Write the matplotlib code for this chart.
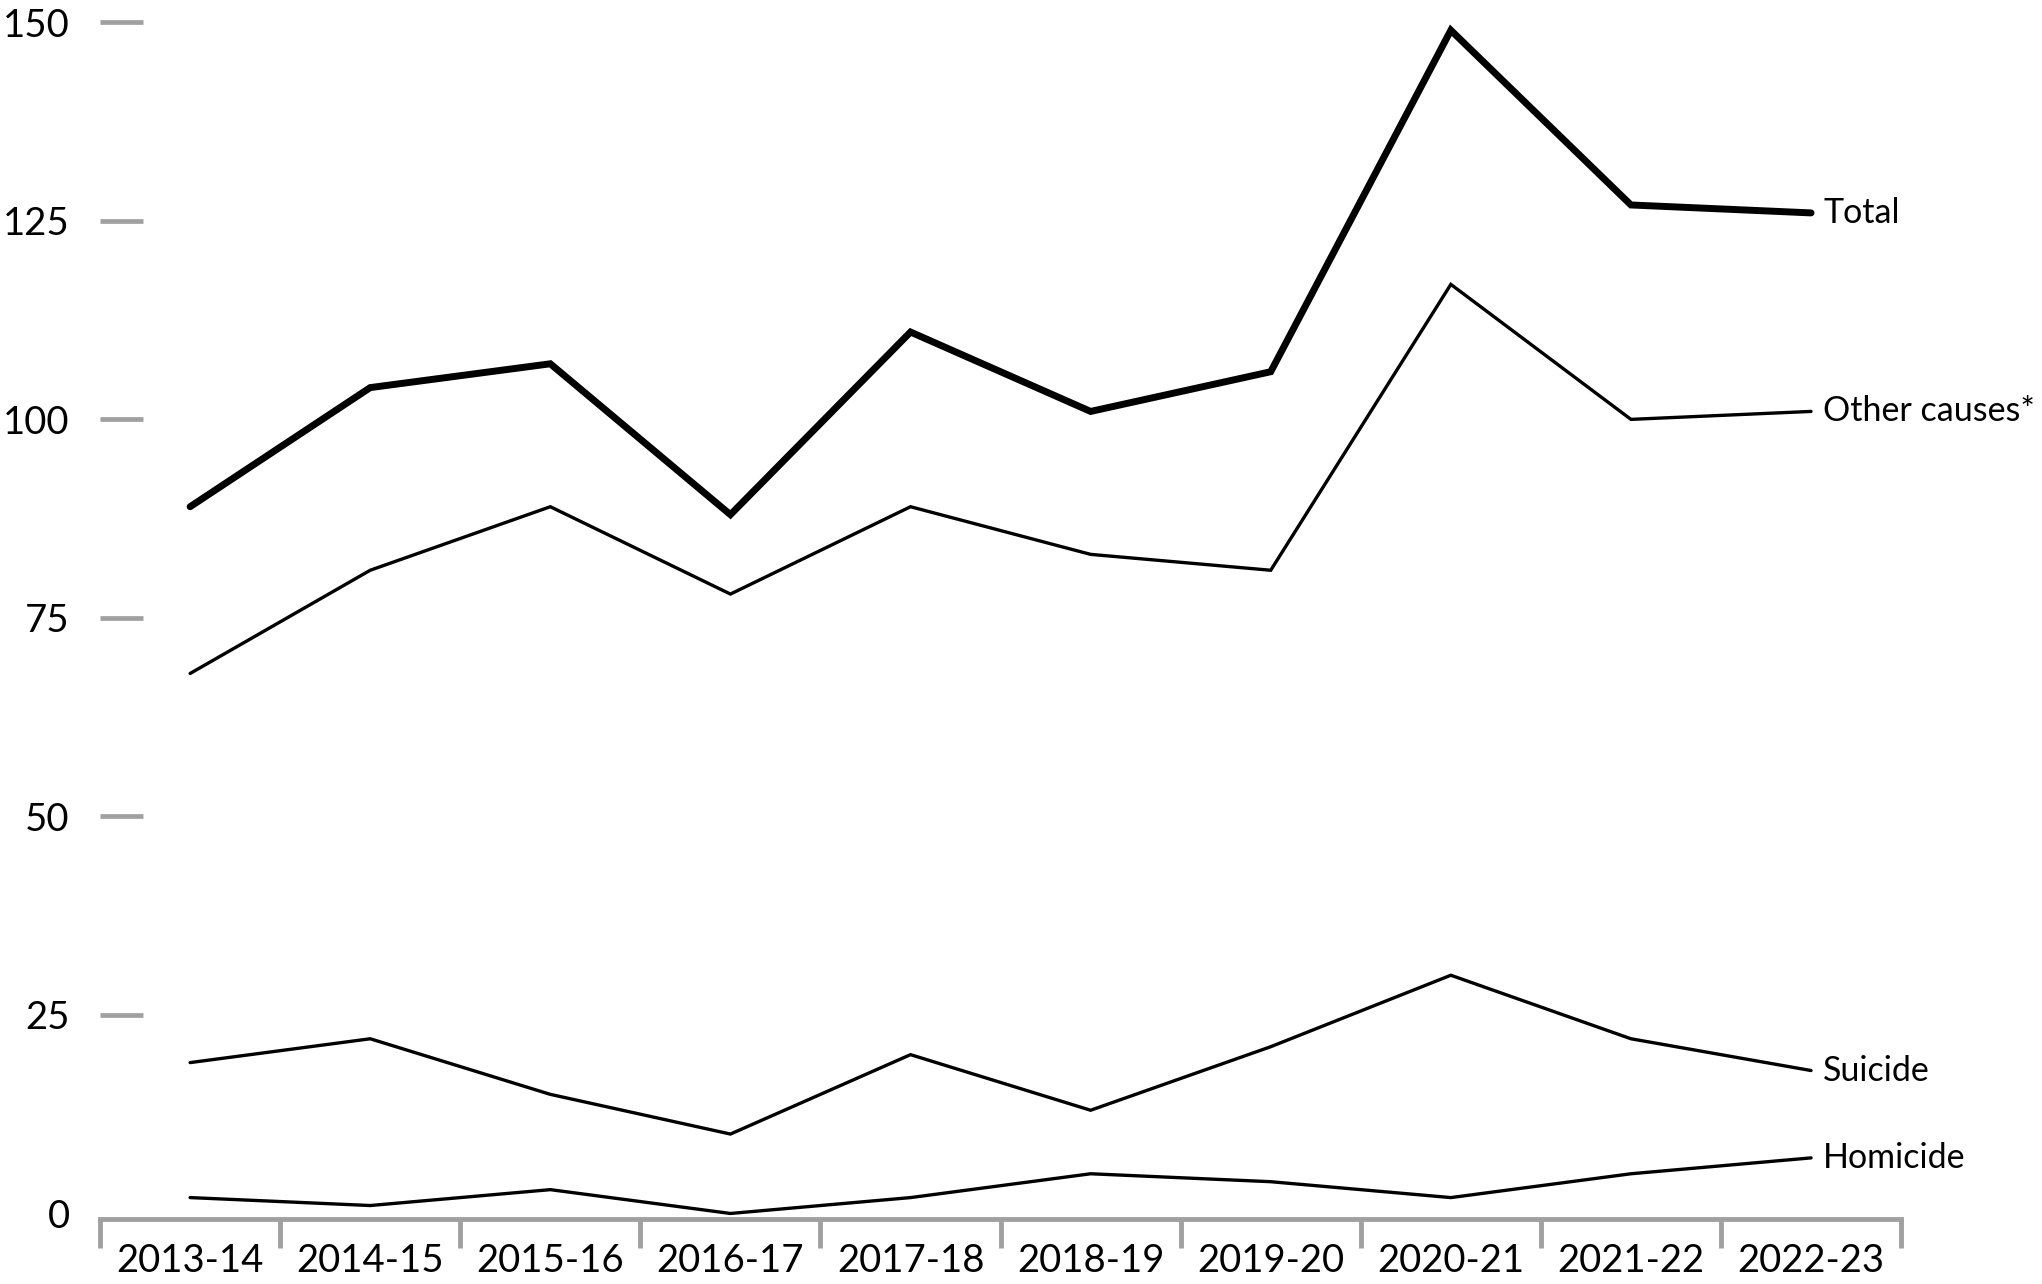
import numpy as np
import matplotlib.pyplot as plt
from matplotlib.ticker import FixedLocator

# values
years = ["2013-14", "2014-15", "2015-16", "2016-17", "2017-18",
         "2018-19", "2019-20", "2020-21", "2021-22", "2022-23"]
total = [89, 104, 107, 88, 111, 101, 106, 149, 127, 126]
other_causes = [68, 81, 89, 78, 89, 83, 81, 117, 100, 101]
suicide = [19, 22, 15, 10, 20, 13, 21, 30, 22, 18]
homicide = [2, 1, 3, 0, 2, 5, 4, 2, 5, 7]

plt.rcParams['font.family'] = ['Lato', 'DejaVu Sans']

grey = '#a0a0a0'

fig = plt.figure(figsize=(20.42, 12.84), dpi=100)
ax = fig.add_axes([0.049, 0.0506, 0.882, 0.9382])

x = np.arange(len(years))
series = [
    (total, "Total", 5.0),
    (other_causes, "Other causes*", 2.4),
    (suicide, "Suicide", 2.4),
    (homicide, "Homicide", 2.4),
]
for vals, name, lw in series:
    ax.plot(x, vals, color='black', lw=lw, solid_capstyle='round',
            solid_joinstyle='miter', zorder=3)
    ax.annotate(name, xy=(x[-1], vals[-1]), xytext=(12, 0), textcoords='offset pixels',
                va='center', ha='left', fontsize=24.5, color='black',
                annotation_clip=False)

ax.set_xlim(-0.5, len(years) - 0.5)
ax.set_ylim(-0.7, 151)

# y axis: no spine, grey inward ticks
ax.set_yticks([0, 25, 50, 75, 100, 125, 150])
ax.tick_params(axis='y', direction='in', length=31, width=3.4, color=grey,
               pad=22, labelsize=27.5, labelcolor='black')
# the zero tick sits on the x axis line, so only its label shows
ax.yaxis.get_major_ticks()[0].tick1line.set_visible(False)

# x axis: category labels between grey boundary ticks
ax.set_xticks(x)
ax.set_xticklabels(years)
ax.xaxis.set_minor_locator(FixedLocator(np.arange(-0.5, len(years), 1.0)))
ax.tick_params(axis='x', which='major', length=0, pad=17, labelsize=27.5)
ax.tick_params(axis='x', which='minor', direction='out', length=21, width=3.5, color=grey)

for side in ['left', 'right', 'top']:
    ax.spines[side].set_visible(False)
ax.spines['bottom'].set_color(grey)
ax.spines['bottom'].set_linewidth(3.5)

fig.savefig('out.png', dpi=100)
